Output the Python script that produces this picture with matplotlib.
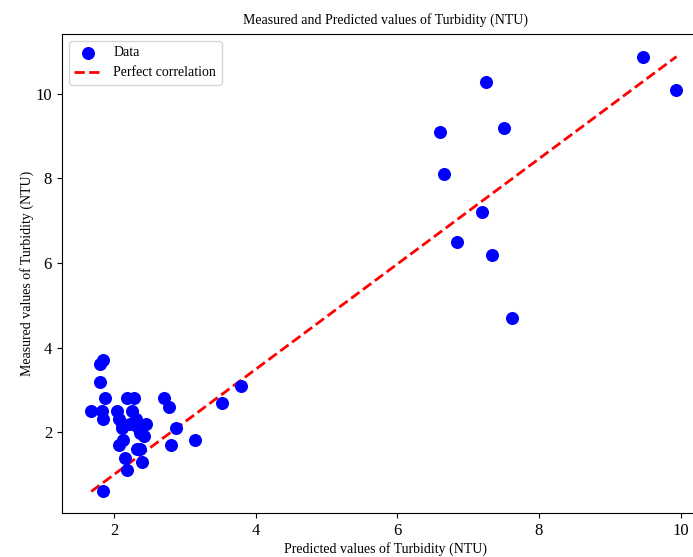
import matplotlib
matplotlib.use("Agg")
import matplotlib.pyplot as plt
import numpy as np

predicted = [9.47, 9.94, 7.25, 6.60, 7.51, 6.66, 7.20, 6.84, 7.34, 7.62,
             1.84, 1.80, 1.81, 1.88, 2.19, 2.29, 2.71, 2.78,
             1.68, 1.83, 2.05, 2.25, 1.85, 2.07, 2.31, 2.45,
             2.12, 2.23, 2.33, 2.11, 2.36, 2.87, 2.37, 2.42,
             2.13, 2.07, 2.32, 2.37, 2.81, 3.14, 2.16, 2.39,
             2.19, 1.84, 3.52, 3.80]
measured = [10.88, 10.10, 10.29, 9.10, 9.20, 8.10, 7.20, 6.50, 6.20, 4.70,
            3.71, 3.61, 3.20, 2.80, 2.80, 2.80, 2.80, 2.60,
            2.51, 2.51, 2.51, 2.51, 2.31, 2.31, 2.31, 2.20,
            2.19, 2.19, 2.15, 2.11, 2.07, 2.10, 1.99, 1.91,
            1.82, 1.71, 1.61, 1.61, 1.71, 1.81, 1.40, 1.30,
            1.11, 0.60, 2.70, 3.10]

plt.rcParams['font.family'] = ['Liberation Serif', 'DejaVu Serif']

fig = plt.figure(figsize=(6.93, 5.57), dpi=100)
ax = fig.add_axes([0.0892, 0.0785, 0.934, 0.8605])

ax.scatter(predicted, measured, color='blue', s=70, label='Data', zorder=3)
lo = [min(predicted), min(measured)]
hi = [max(predicted), max(measured)]
ax.plot([lo[0], hi[0]], [lo[1], hi[1]], 'r--', lw=2, label='Perfect correlation')

ax.set_xlim(1.265, 10.4)
ax.set_ylim(0.085, 11.415)
ax.set_xticks([2, 4, 6, 8, 10])
ax.set_yticks([2, 4, 6, 8, 10])
ax.tick_params(labelsize=12)
ax.set_xlabel('Predicted values of Turbidity (NTU)', fontsize=10, labelpad=2)
ax.set_ylabel('Measured values of Turbidity (NTU)', fontsize=10, labelpad=1)
ax.set_title('Measured and Predicted values of Turbidity (NTU)', fontsize=10, pad=7)
ax.legend(loc='upper left', fontsize=10)

fig.savefig('out.png', dpi=100)
